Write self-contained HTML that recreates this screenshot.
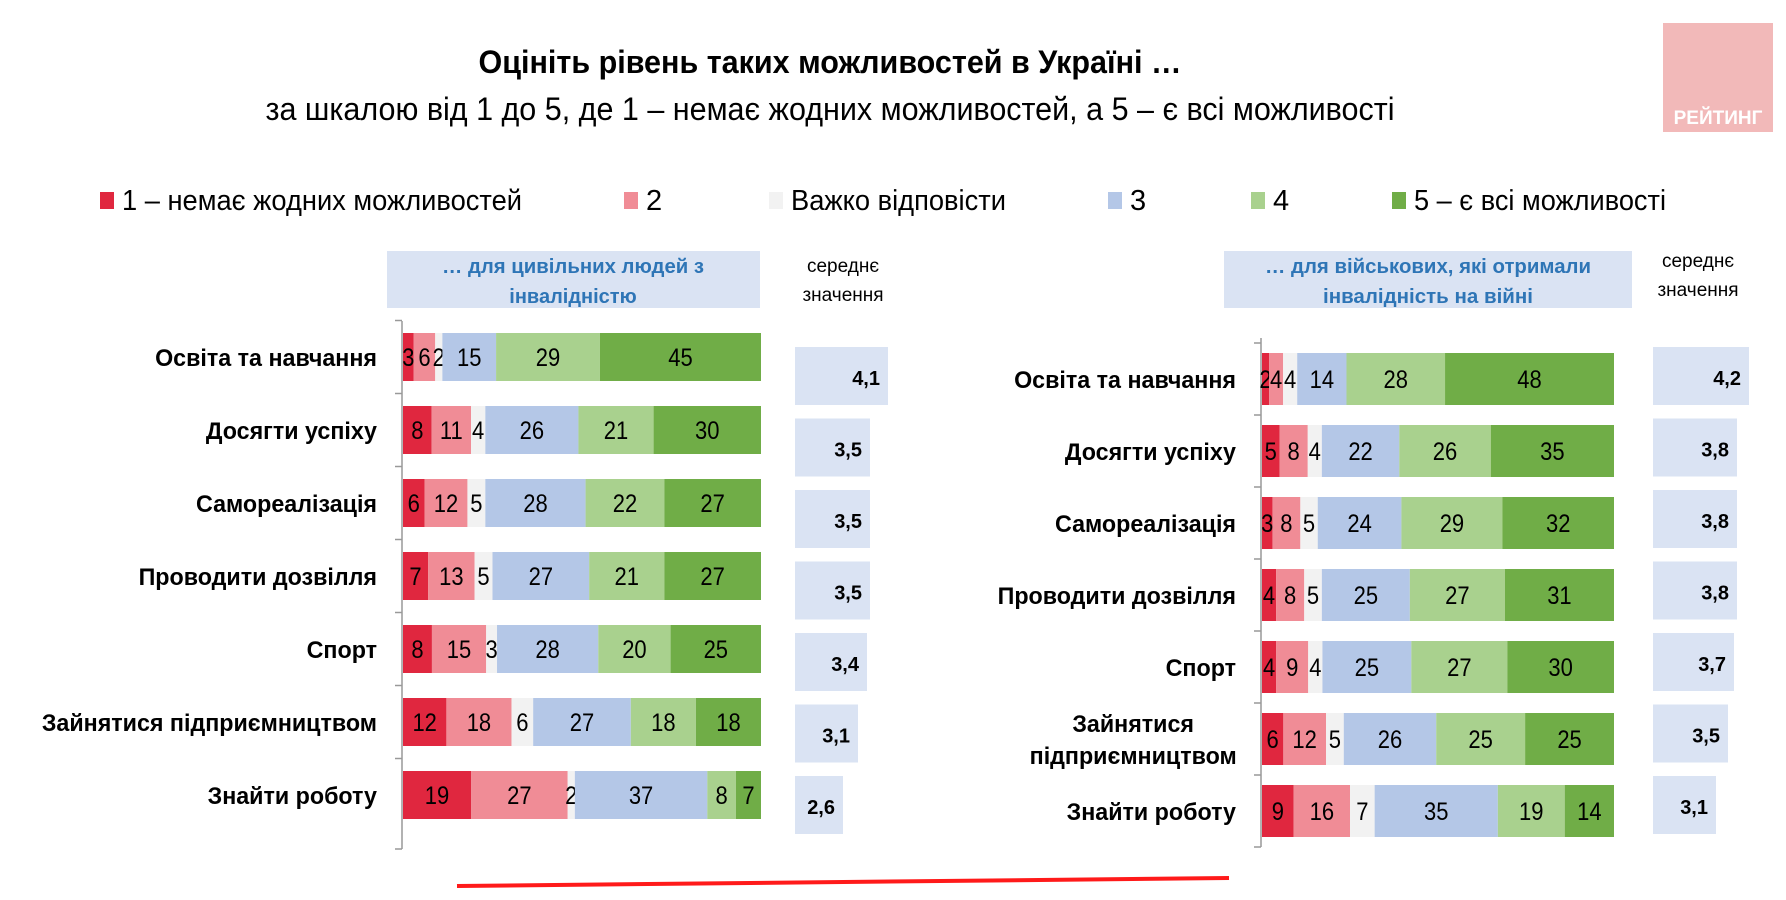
<!DOCTYPE html>
<html><head><meta charset="utf-8"><style>
html,body{margin:0;padding:0;background:#fff;}
svg{display:block;font-family:"Liberation Sans",sans-serif;}
</style></head><body>
<svg id="chart" width="1786" height="900" viewBox="0 0 1786 900">
<text x="830" y="73" text-anchor="middle" font-size="32" font-weight="bold" textLength="703" lengthAdjust="spacingAndGlyphs">Оцініть рівень таких можливостей в Україні …</text>
<text x="830" y="120" text-anchor="middle" font-size="32" textLength="1129" lengthAdjust="spacingAndGlyphs">за шкалою від 1 до 5, де 1 – немає жодних можливостей, а 5 – є всі можливості</text>
<g>
<rect x="1663" y="23" width="110" height="109" fill="#f2b9b9"/>
<text x="1718" y="124" text-anchor="middle" font-size="19" font-weight="bold" fill="#fff">РЕЙТИНГ</text>
</g>
<g id="legend"></g>
<g>
<rect x="387" y="251" width="373" height="57" fill="#dae3f3"/>
<text x="573" y="273" text-anchor="middle" font-size="20" font-weight="bold" fill="#2e75b6" textLength="262" lengthAdjust="spacingAndGlyphs">… для цивільних людей з</text>
<text x="573" y="303" text-anchor="middle" font-size="20" font-weight="bold" fill="#2e75b6">інвалідністю</text>
</g>
<g>
<rect x="1224" y="251" width="408" height="57" fill="#dae3f3"/>
<text x="1428" y="273" text-anchor="middle" font-size="20" font-weight="bold" fill="#2e75b6" textLength="326" lengthAdjust="spacingAndGlyphs">… для військових, які отримали</text>
<text x="1428" y="303" text-anchor="middle" font-size="20" font-weight="bold" fill="#2e75b6" textLength="210" lengthAdjust="spacingAndGlyphs">інвалідність на війні</text>
</g>
<g>
<text x="843" y="272" text-anchor="middle" font-size="19">середнє</text>
<text x="843" y="301" text-anchor="middle" font-size="19">значення</text>
</g>
<g>
<text x="1698" y="267" text-anchor="middle" font-size="19">середнє</text>
<text x="1698" y="296" text-anchor="middle" font-size="19">значення</text>
</g>
<line x1="457" y1="886" x2="1229" y2="878" stroke="#ff1a1a" stroke-width="4"/>
<g id="plots"></g>
</svg>
<script>
const seriesNames = ["1 – немає жодних можливостей","2","Важко відповісти","3","4","5 – є всі можливості"];
const seriesColors = ["#e0273f","#f08c96","#f2f2f2","#b4c7e7","#a9d18e","#70ad47"];
const categories = ["Освіта та навчання","Досягти успіху","Самореалізація","Проводити дозвілля","Спорт","Зайнятися підприємництвом","Знайти роботу"];
const civilValues = [
 [3,6,2,15,29,45],[8,11,4,26,21,30],[6,12,5,28,22,27],[7,13,5,27,21,27],
 [8,15,3,28,20,25],[12,18,6,27,18,18],[19,27,2,37,8,7]];
const civilMeans = [4.1,3.5,3.5,3.5,3.4,3.1,2.6];
const militaryValues = [
 [2,4,4,14,28,48],[5,8,4,22,26,35],[3,8,5,24,29,32],[4,8,5,25,27,31],
 [4,9,4,25,27,30],[6,12,5,26,25,25],[9,16,7,35,19,14]];
const militaryMeans = [4.2,3.8,3.8,3.8,3.7,3.5,3.1];
const meanLabels = v => v.toFixed(1).replace('.',',');

const NS="http://www.w3.org/2000/svg";
function mk(tag,attrs,parent){const e=document.createElementNS(NS,tag);for(const k in attrs)e.setAttribute(k,attrs[k]);parent.appendChild(e);return e;}

const leg=document.getElementById('legend');
const legX=[100,624,769,1108,1251,1392];
const legW=[400,0,215,0,0,252];
seriesNames.forEach((n,i)=>{
 const g=mk('g',{},leg);
 
 
 mk('rect',{x:legX[i],y:192,width:14,height:17,fill:seriesColors[i]},g);
 const a={x:legX[i]+22,y:210,'font-size':29};
 if(legW[i]){a.textLength=legW[i];a.lengthAdjust='spacingAndGlyphs';}
 const t=mk('text',a,g);t.textContent=n;
});

const plots=document.getElementById('plots');
function drawPanel(cfg){
 const g=mk('g',{},plots);
 
 
 const yTop=i=>cfg.top+i*cfg.pitch;
 mk('line',{x1:cfg.x0-1,y1:cfg.axisTop,x2:cfg.x0-1,y2:cfg.axisBottom,stroke:'#999','stroke-width':1.5},g);
 for(let i=0;i<=categories.length;i++){
  const ty=i<categories.length?yTop(i)-(cfg.pitch-cfg.h)/2:cfg.axisBottom;
  mk('line',{x1:cfg.x0-8,y1:ty,x2:cfg.x0-1,y2:ty,stroke:'#999','stroke-width':1.5},g);
 }
 cfg.values.forEach((row,i)=>{
  const tot=row.reduce((a,b)=>a+b,0);
  const sx=v=>v/tot*cfg.w;
  let acc=0;
  const y=yTop(i);
  row.forEach((v,j)=>{
   const r=mk('rect',{x:cfg.x0+sx(acc),y:y,width:sx(v),height:cfg.h,fill:seriesColors[j]},g);
   
   
   const cx=cfg.x0+sx(acc+v/2);
   const t=mk('text',{x:cx,y:y+cfg.h/2+9,'text-anchor':'middle','font-size':25,transform:`translate(${cx} 0) scale(0.88 1) translate(${-cx} 0)`},g);
   t.textContent=v;
   acc+=v;
  });
  const lines=cfg.labelLines[i];
  const lb=mk('text',{'font-size':24,'font-weight':'bold','text-anchor':lines.length>1?'middle':'end',transform:`translate(${cfg.labelX} 0) scale(0.97 1) translate(${-cfg.labelX} 0)`},g);
  
  
  lines.forEach((s,k)=>{
   const ts=mk('tspan',{x:lines.length>1?cfg.labelX-106:cfg.labelX,y:y+cfg.h/2+9+(k-(lines.length-1)/2)*32},lb);
   ts.textContent=s;
  });
  const m=cfg.means[i];
  const mw=30*m-30;
  const my=347+i*71.5;
  const mb=mk('rect',{x:cfg.mx,y:my,width:mw,height:58,fill:'#dae3f3'},g);
  
  
  const mt=mk('text',{x:cfg.mx+mw-8,y:my+38,'text-anchor':'end','font-size':20,'font-weight':'bold'},g);
  mt.textContent=meanLabels(m);
 });
}
drawPanel({name:'civilian-chart',values:civilValues,means:civilMeans,x0:403,w:358,top:333,pitch:73,h:48,axisTop:321,axisBottom:849,labelX:377,mx:795,
 labelLines:categories.map(c=>[c])});
drawPanel({name:'military-chart',values:militaryValues,means:militaryMeans,x0:1262,w:352,top:353,pitch:72,h:52,axisTop:338,axisBottom:847,labelX:1236,mx:1653,
 labelLines:categories.map(c=>c==="Зайнятися підприємництвом"?["Зайнятися","підприємництвом"]:[c])});
</script>
</body></html>
